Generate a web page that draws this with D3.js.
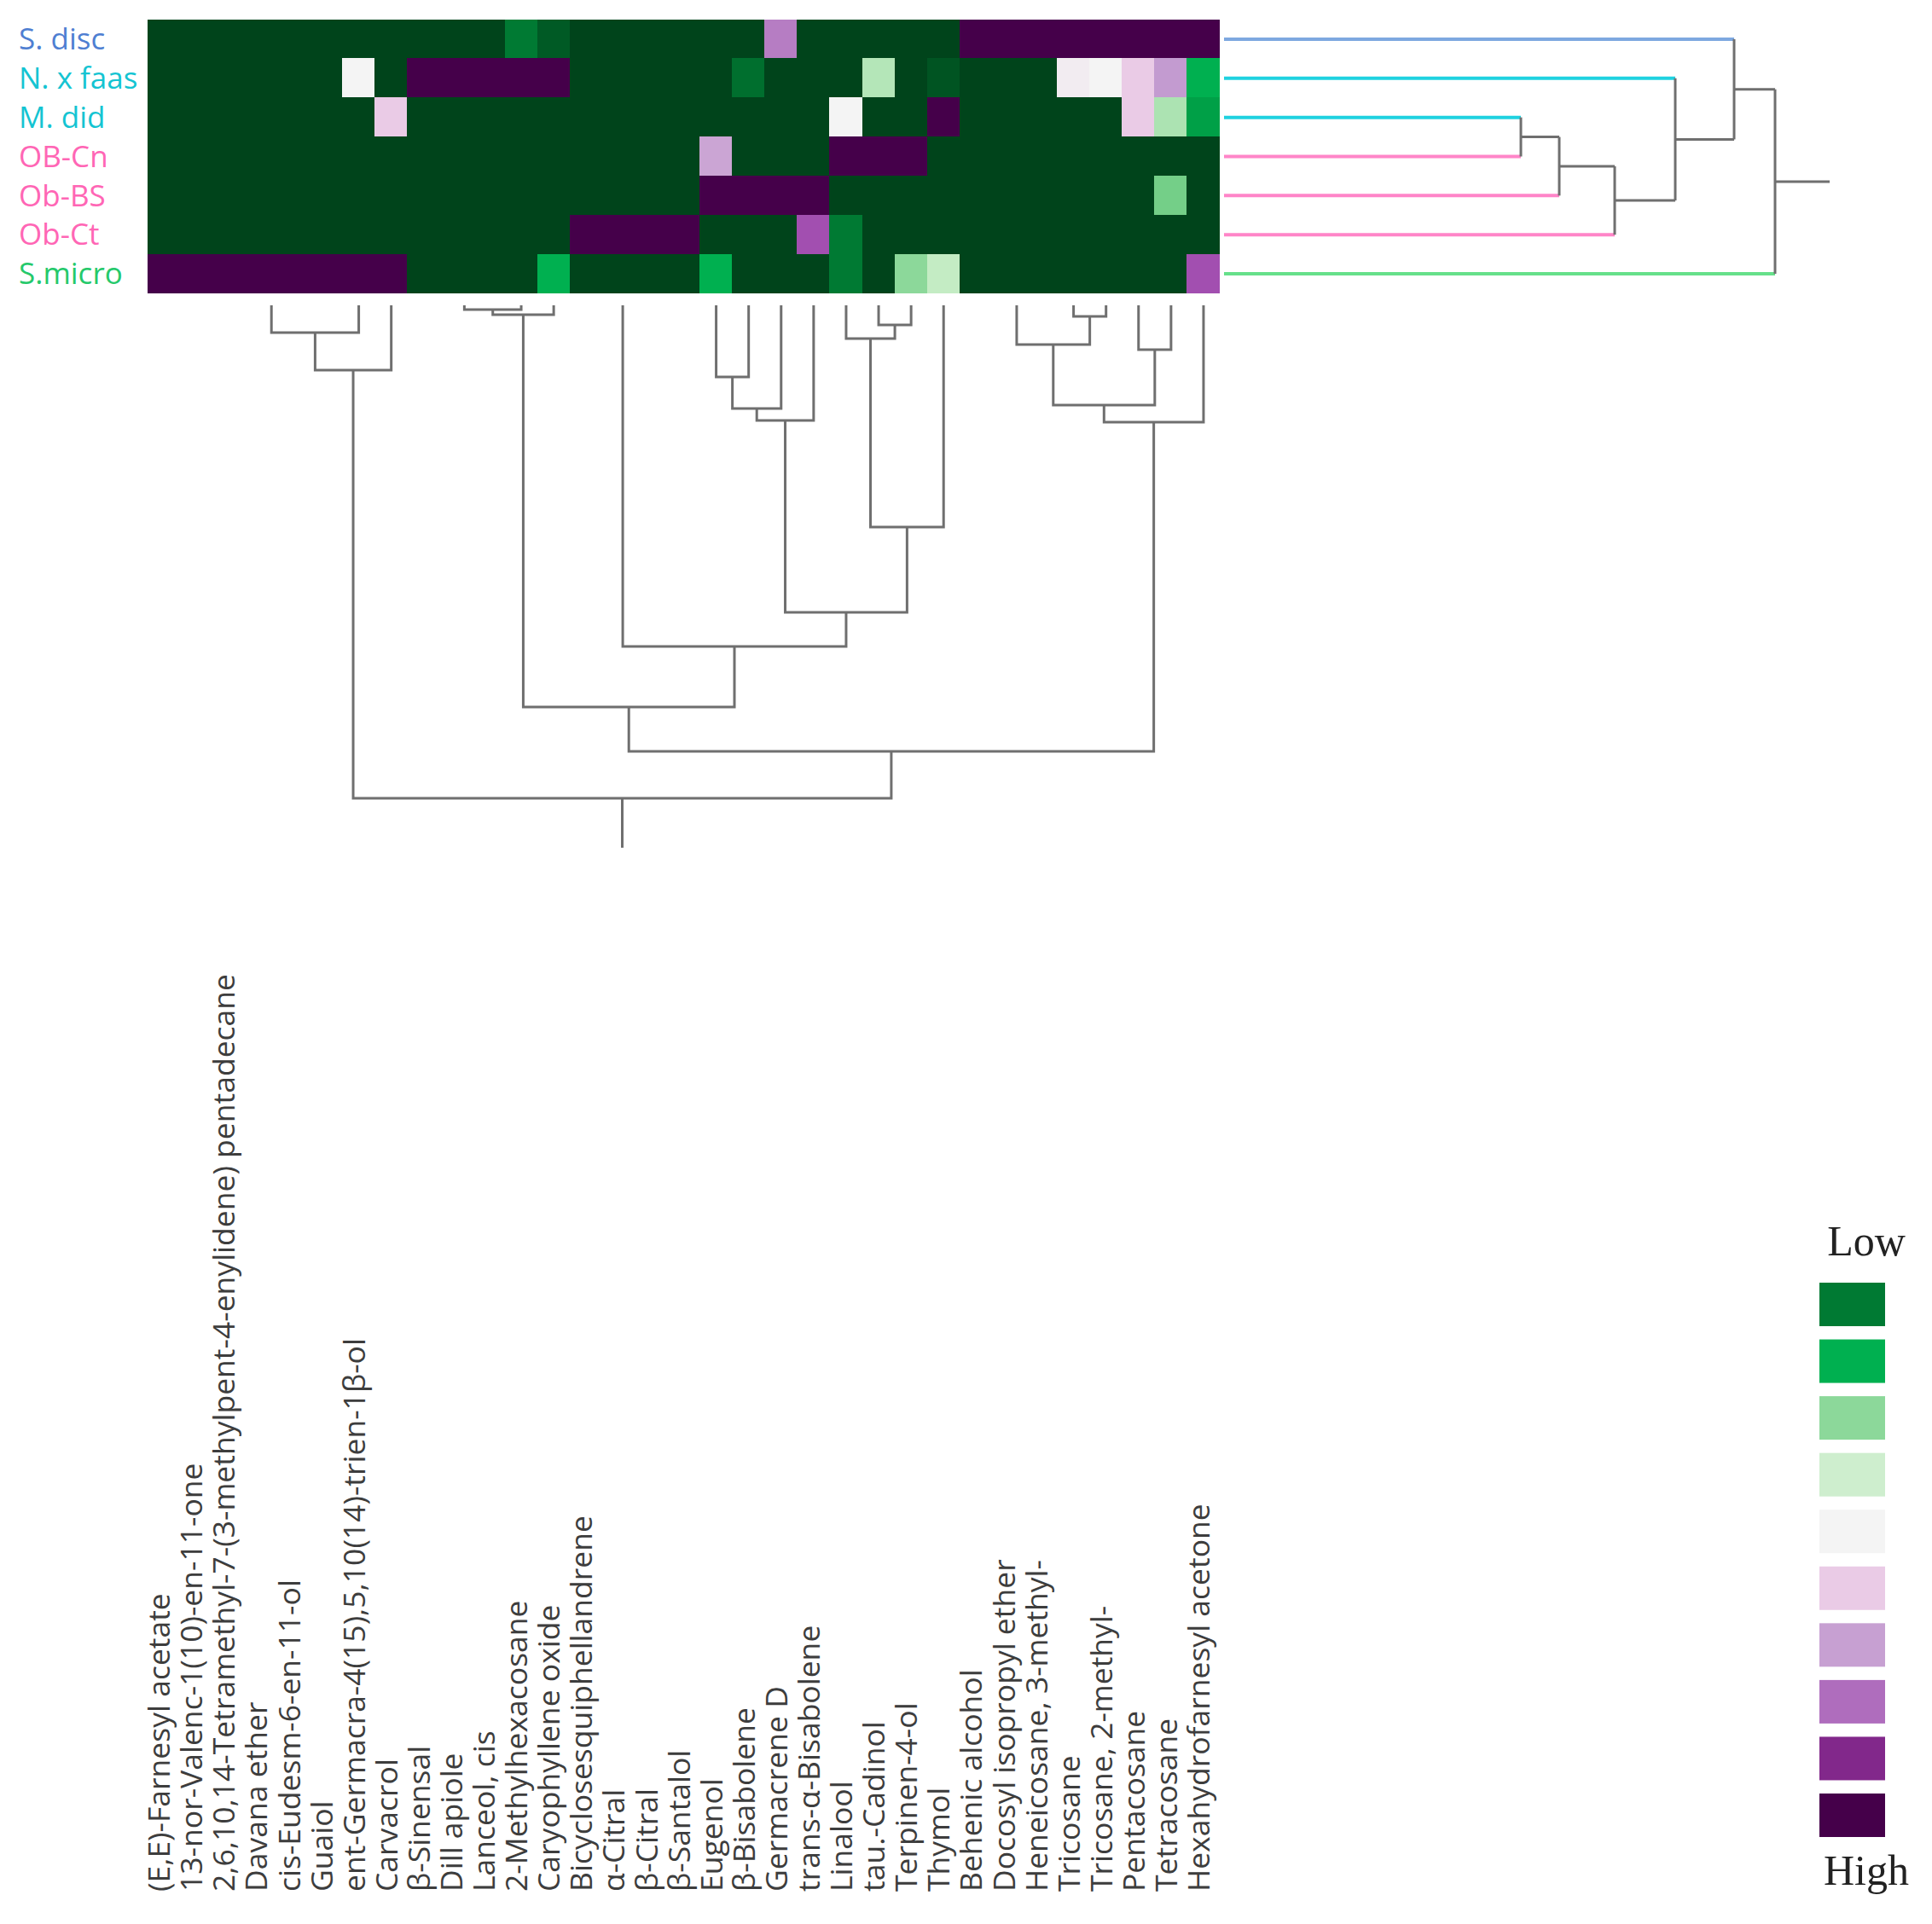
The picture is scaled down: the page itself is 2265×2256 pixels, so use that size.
<!DOCTYPE html>
<html>
<head>
<meta charset="utf-8">
<script src="https://cdn.jsdelivr.net/npm/d3@7"></script>
<style>
html, body { margin: 0; padding: 0; background: #fff; }
</style>
</head>
<body>
<div id="chart"></div>
<script>
// samples (rows) and their group
var samples = ["S. disc", "N. x faas", "M. did", "OB-Cn", "Ob-BS", "Ob-Ct", "S.micro"];
var sampleGroup = ["disc", "faas", "faas", "ob", "ob", "ob", "micro"];

// compounds (columns), in dendrogram order
var compounds = [
    "(E,E)-Farnesyl acetate",
    "13-nor-Valenc-1(10)-en-11-one",
    "2,6,10,14-Tetramethyl-7-(3-methylpent-4-enylidene) pentadecane",
    "Davana ether",
    "cis-Eudesm-6-en-11-ol",
    "Guaiol",
    "ent-Germacra-4(15),5,10(14)-trien-1β-ol",
    "Carvacrol",
    "β-Sinensal",
    "Dill apiole",
    "Lanceol, cis",
    "2-Methylhexacosane",
    "Caryophyllene oxide",
    "Bicyclosesquiphellandrene",
    "α-Citral",
    "β-Citral",
    "β-Santalol",
    "Eugenol",
    "β-Bisabolene",
    "Germacrene D",
    "trans-α-Bisabolene",
    "Linalool",
    "tau.-Cadinol",
    "Terpinen-4-ol",
    "Thymol",
    "Behenic alcohol",
    "Docosyl isopropyl ether",
    "Heneicosane, 3-methyl-",
    "Tricosane",
    "Tricosane, 2-methyl-",
    "Pentacosane",
    "Tetracosane",
    "Hexahydrofarnesyl acetone"
];

// relative abundance, 0 = low, 1 = high (one array per sample)
var sDisc   = [0,0,0,0,0,0,0,0,0,0,0, 0.1,0.04, 0,0,0,0,0,0, 0.74, 0,0,0,0,0, 1,1,1,1,1,1,1,1];
var nFaas   = [0,0,0,0,0,0, 0.5, 0, 1,1,1,1,1, 0,0,0,0,0, 0.08, 0,0,0, 0.38, 0, 0.03, 0,0,0, 0.52,0.5,0.6,0.7,0.2];
var mDid    = [0,0,0,0,0,0,0, 0.6, 0,0,0,0,0,0,0,0,0,0,0,0,0, 0.5, 0,0, 1, 0,0,0,0,0, 0.6,0.37,0.17];
var obCn    = [0,0,0,0,0,0,0,0,0,0,0,0,0,0,0,0,0, 0.68, 0,0,0, 1,1,1, 0,0,0,0,0,0,0,0,0];
var obBS    = [0,0,0,0,0,0,0,0,0,0,0,0,0,0,0,0,0, 1,1,1,1, 0,0,0,0,0,0,0,0,0,0, 0.3, 0];
var obCt    = [0,0,0,0,0,0,0,0,0,0,0,0,0, 1,1,1,1, 0,0,0, 0.8,0.1, 0,0,0,0,0,0,0,0,0,0,0];
var sMicro  = [1,1,1,1,1,1,1,1, 0,0,0,0, 0.2, 0,0,0,0, 0.2, 0,0,0, 0.1, 0, 0.33,0.4, 0,0,0,0,0,0,0, 0.8];
var values = [sDisc, nFaas, mDid, obCn, obBS, obCt, sMicro];

// legend swatches (levels on the same 0..1 scale)
var legendLevels = [0.1, 0.2, 0.33, 0.42, 0.5, 0.6, 0.69, 0.76, 0.88, 1.0];
var legendEnds = ["Low", "High"];

// dendrograms: n(height, left, right), leaves are row / column indexes
function n(h, a, b) { return { h: h, children: [a, b] }; }

var sampleTree = n(64.6,
    n(59.8, 0, n(52.9, 1, n(45.8, n(39.3, n(34.8, 2, 3), 4), 5))),
    6);

var compoundTree = n(57.8,
    n(7.6, n(3.2, n(0, n(0, n(0, n(0, 0, 1), 2), 3), n(0, 4, 5)), 6), 7),
    n(52.3,
        n(47.1,
            n(1.1, n(0.5, n(0, n(0, 8, 9), 10), 11), 12),
            n(40.0,
                n(0, 13, n(0, n(0, 14, 15), 16)),
                n(36.0,
                    n(13.5, n(12.1, n(8.4, 17, 18), 19), 20),
                    n(26.0, n(3.9, 21, n(2.3, 22, 23)), 24)))),
        n(13.7,
            n(11.7, n(4.6, n(0, n(0, 25, 26), 27), n(1.3, 28, 29)), n(5.2, 30, 31)),
            32)));

var width = 2265, height = 2256;
var heat = { left: 173, right: 1430, top: 23, bottom: 344 };

var svg = d3.select("#chart").append("svg")
    .attr("width", width)
    .attr("height", height);

var x = d3.scaleBand().domain(d3.range(compounds.length)).range([heat.left, heat.right]);
var y = d3.scaleBand().domain(d3.range(samples.length)).range([heat.top, heat.bottom]);

var color = d3.scaleLinear()
    .domain([0, 0.1, 0.2, 0.3, 0.4, 0.5, 0.6, 0.7, 0.8, 0.9, 1])
    .range(["#00441b", "#007a33", "#00b050", "#74cf88", "#c4ecc4", "#f4f4f4",
            "#eacbe6", "#c39bd0", "#a24fb0", "#7a1e82", "#45004a"])
    .interpolate(d3.interpolateRgb);

var groupColor = d3.scaleOrdinal()
    .domain(["disc", "faas", "ob", "micro"])
    .range(["#4f7fd2", "#14c4d2", "#ff66b5", "#25c96b"]);
var groupLine = d3.scaleOrdinal()
    .domain(["disc", "faas", "ob", "micro"])
    .range(["#7ea8e0", "#1fd2e0", "#ff85c8", "#66e08a"]);

// ---- heatmap cells
var cells = [];
values.forEach(function (row, i) {
    row.forEach(function (v, j) { cells.push({ r: i, c: j, v: v }); });
});

svg.append("g").attr("class", "cells")
    .style("shape-rendering", "crispEdges")
    .selectAll("rect")
    .data(cells)
    .enter().append("rect")
    .attr("x", function (d) { return Math.floor(x(d.c)); })
    .attr("y", function (d) { return Math.floor(y(d.r)); })
    .attr("width", function (d) {
        return d.c === compounds.length - 1 ? heat.right - Math.floor(x(d.c)) : Math.ceil(x.bandwidth()) + 1;
    })
    .attr("height", function (d) {
        return d.r === samples.length - 1 ? heat.bottom - Math.floor(y(d.r)) : Math.ceil(y.bandwidth()) + 1;
    })
    .style("fill", function (d) { return color(d.v); });

// ---- row labels
svg.append("g").attr("class", "rowLabels")
    .selectAll("text")
    .data(samples)
    .enter().append("text")
    .attr("x", 22)
    .attr("y", function (d, i) { return y(i) + y.bandwidth() / 2; })
    .attr("dy", "0.35em")
    .style("font", '35px "Open Sans", sans-serif')
    .style("fill", function (d, i) { return groupColor(sampleGroup[i]); })
    .text(function (d) { return d; });

// ---- column labels
svg.append("g").attr("class", "colLabels")
    .selectAll("text")
    .data(compounds)
    .enter().append("text")
    .attr("transform", function (d, i) {
        return "translate(" + (x(i) + x.bandwidth() / 2) + ",2218) rotate(-90)";
    })
    .attr("dy", "0.2em")
    .style("font", '35.5px "Open Sans", sans-serif')
    .style("fill", "#3d3d3d")
    .style("text-anchor", "start")
    .text(function (d) { return d; });

// node positions: leaves from the band scale, inner nodes at the mean of children
function place(node, pos) {
    if (typeof node === "number") return { leaf: node, h: 0, p: pos(node) };
    var kids = node.children.map(function (c) { return place(c, pos); });
    return { h: node.h, kids: kids, p: (kids[0].p + kids[1].p) / 2 };
}
function inner(node, out) {
    out = out || [];
    if (node.kids) {
        out.push(node);
        node.kids.forEach(function (k) { inner(k, out); });
    }
    return out;
}

// ---- column dendrogram (below the heatmap)
var colRoot = place(compoundTree, function (i) { return x(i) + x.bandwidth() / 2; });
var hy = d3.scaleLinear().domain([0, colRoot.h]).range([358, 936]);

var gCol = svg.append("g").attr("class", "colTree")
    .style("fill", "none")
    .style("stroke", "#6f6f6f")
    .style("stroke-width", 3);

gCol.selectAll("path")
    .data(inner(colRoot).filter(function (d) { return d.h > 0; }))
    .enter().append("path")
    .attr("d", function (d) {
        var a = d.kids[0], b = d.kids[1];
        return "M" + a.p + "," + hy(a.h) + "V" + hy(d.h) + "H" + b.p + "V" + hy(b.h);
    });

gCol.append("path")
    .attr("d", "M" + colRoot.p + "," + hy(colRoot.h) + "V" + hy(colRoot.h + 5.8));

// ---- row dendrogram (right of the heatmap)
var rowRoot = place(sampleTree, function (i) { return y(i) + y.bandwidth() / 2; });
var hx = d3.scaleLinear().domain([0, rowRoot.h]).range([1435, 2081]);

var gRow = svg.append("g").attr("class", "rowTree")
    .style("fill", "none");

var branches = [];
inner(rowRoot).forEach(function (d) {
    d.kids.forEach(function (k) { branches.push({ kid: k, parent: d }); });
});

gRow.selectAll("line.branch")
    .data(branches)
    .enter().append("line")
    .attr("class", "branch")
    .attr("x1", function (d) { return hx(d.kid.h); })
    .attr("x2", function (d) { return hx(d.parent.h); })
    .attr("y1", function (d) { return d.kid.p; })
    .attr("y2", function (d) { return d.kid.p; })
    .style("stroke", function (d) {
        return d.kid.kids ? "#6f6f6f" : groupLine(sampleGroup[d.kid.leaf]);
    })
    .style("stroke-width", function (d) { return d.kid.kids ? 3 : 4; });

gRow.selectAll("line.join")
    .data(inner(rowRoot))
    .enter().append("line")
    .attr("class", "join")
    .attr("x1", function (d) { return hx(d.h); })
    .attr("x2", function (d) { return hx(d.h); })
    .attr("y1", function (d) { return d.kids[0].p; })
    .attr("y2", function (d) { return d.kids[1].p; })
    .style("stroke", "#6f6f6f")
    .style("stroke-width", 3);

gRow.append("line")
    .attr("x1", hx(rowRoot.h))
    .attr("x2", hx(rowRoot.h + 6.4))
    .attr("y1", rowRoot.p)
    .attr("y2", rowRoot.p)
    .style("stroke", "#6f6f6f")
    .style("stroke-width", 3);

// ---- legend
var ly = d3.scaleLinear().domain([0, legendLevels.length - 1]).range([1504, 2103]);
var gLeg = svg.append("g").attr("class", "legend");

gLeg.selectAll("rect")
    .data(legendLevels)
    .enter().append("rect")
    .attr("x", 2133)
    .attr("y", function (d, i) { return ly(i); })
    .attr("width", 77)
    .attr("height", 51)
    .style("fill", function (d) { return color(d); });

gLeg.selectAll("text")
    .data(legendEnds)
    .enter().append("text")
    .attr("x", 2188)
    .attr("y", function (d, i) { return i === 0 ? 1472 : 2210; })
    .style("text-anchor", "middle")
    .style("font", '50px "Liberation Serif", "Times New Roman", serif')
    .style("fill", "#222")
    .text(function (d) { return d; });
</script>
</body>
</html>
